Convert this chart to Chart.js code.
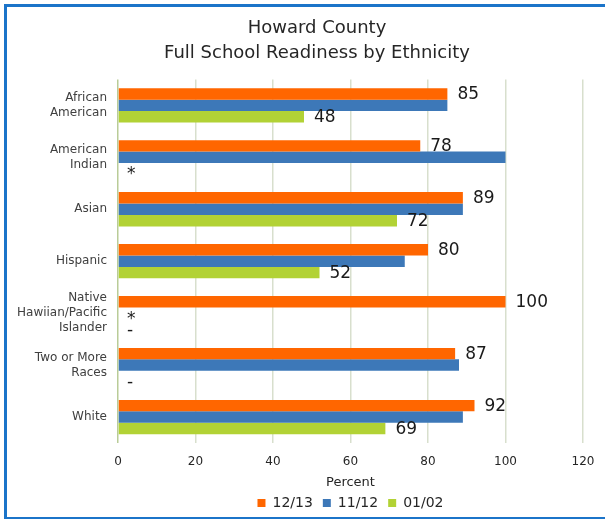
<!DOCTYPE html>
<html>
<head>
<meta charset="utf-8">
<script src="https://cdn.jsdelivr.net/npm/chart.js@4.4.1/dist/chart.umd.min.js"></script>
<style>
  html, body { margin: 0; padding: 0; background: #fff; overflow: hidden; }
  #wrap { position: absolute; left: 7px; top: 7px; width: 620px; height: 513px; }
  .edge { position: absolute; background: #1b74c9; z-index: 2; }
  #edgeLeft { left: 4px; top: 4px; width: 3px; height: 516px; }
  #edgeTop { left: 4px; top: 4px; width: 700px; height: 3px; }
  #edgeBottom { left: 4px; top: 517px; width: 700px; height: 3px; }
</style>
</head>
<body>
<div id="wrap"><canvas id="readinessChart" width="620" height="513"></canvas></div>
<div class="edge" id="edgeLeft"></div>
<div class="edge" id="edgeTop"></div>
<div class="edge" id="edgeBottom"></div>
<script>
const categories = [
  ["African", "American"],
  ["American", "Indian"],
  "Asian",
  "Hispanic",
  ["Native", "Hawiian/Pacific", "Islander"],
  ["Two or More", "Races"],
  "White"
];
const seriesNames = ["12/13", "11/12", "01/02"];
const values1213 = [85, 78, 89, 80, 100, 87, 92];
const values1112 = [85, 100, 89, 74, null, 88, 89];
const values0102 = [48, null, 72, 52, null, null, 69];
// markers printed where a year has no result
const markers1112 = [null, null, null, null, "*", null, null];
const markers0102 = [null, "*", null, null, "-", "-", null];
const percentTicks = [0, 20, 40, 60, 80, 100, 120];

const FONT = '"DejaVu Sans", Verdana, sans-serif';

// writes the value next to each bar, or the marker when the value is missing
const barLabels = {
  id: "barLabels",
  afterDatasetsDraw(chart) {
    const ctx = chart.ctx;
    const x0 = chart.scales.x.getPixelForValue(0);
    ctx.save();
    ctx.font = "17px " + FONT;
    ctx.fillStyle = "#1a1a1a";
    ctx.textAlign = "left";
    ctx.textBaseline = "middle";
    chart.data.datasets.forEach((ds, i) => {
      const meta = chart.getDatasetMeta(i);
      meta.data.forEach((bar, j) => {
        const v = ds.data[j];
        if (v !== null && ds.showValues) {
          ctx.fillText(String(v), bar.x + 10, bar.y + 1);
        } else if (v === null && ds.markers && ds.markers[j]) {
          ctx.fillText(ds.markers[j], x0 + 9, bar.y + 6);
        }
      });
    });
    ctx.restore();
  }
};

const canvas = document.getElementById("readinessChart");

new Chart(canvas, {
  type: "bar",
  data: {
    labels: categories,
    datasets: [
      { label: seriesNames[0], data: values1213, backgroundColor: "#ff6600", showValues: true },
      { label: seriesNames[1], data: values1112, backgroundColor: "#3d78b8", showValues: false, markers: markers1112 },
      { label: seriesNames[2], data: values0102, backgroundColor: "#b2d235", showValues: true, markers: markers0102 }
    ]
  },
  options: {
    indexAxis: "y",
    responsive: false,
    animation: false,
    datasets: {
      bar: { categoryPercentage: 0.66, barPercentage: 1 }
    },
    layout: { padding: 0 },
    plugins: {
      title: {
        display: true,
        text: ["Howard County", "Full School Readiness by Ethnicity"],
        color: "#262626",
        font: { family: FONT, size: 18, weight: "normal", lineHeight: 1.4 },
        padding: { top: 9, bottom: 13 }
      },
      legend: {
        position: "bottom",
        fullSize: false,
        labels: {
          color: "#262626",
          font: { family: FONT, size: 14 },
          boxWidth: 8,
          boxHeight: 8,
          padding: 10
        }
      },
      tooltip: { enabled: false }
    },
    scales: {
      x: {
        min: percentTicks[0],
        max: percentTicks[percentTicks.length - 1],
        ticks: {
          stepSize: percentTicks[1] - percentTicks[0],
          color: "#262626",
          font: { family: FONT, size: 12 },
          padding: 12,
          maxRotation: 0
        },
        grid: {
          color: (c) => (c.tick && c.tick.value === 0 ? "#b9cc98" : "#d8dfcd"),
          lineWidth: 1.5,
          drawTicks: false
        },
        border: { display: false },
        title: {
          display: true,
          text: "Percent",
          color: "#262626",
          font: { family: FONT, size: 13 },
          padding: { top: 4, bottom: -4 }
        },
        afterFit(scale) { scale.height = 43; }
      },
      y: {
        ticks: {
          color: "#404040",
          font: { family: FONT, size: 12, lineHeight: 1.25 },
          padding: 3
        },
        grid: { display: false },
        border: { display: false },
        afterFit(scale) { scale.width = 111; }
      },
      // empty strip on the right so the plot stops short of the canvas edge
      gutter: {
        type: "category",
        position: "right",
        ticks: { display: false },
        grid: { display: false },
        border: { display: false },
        afterFit(scale) { scale.width = 44; }
      }
    }
  },
  plugins: [barLabels]
});
</script>
</body>
</html>
